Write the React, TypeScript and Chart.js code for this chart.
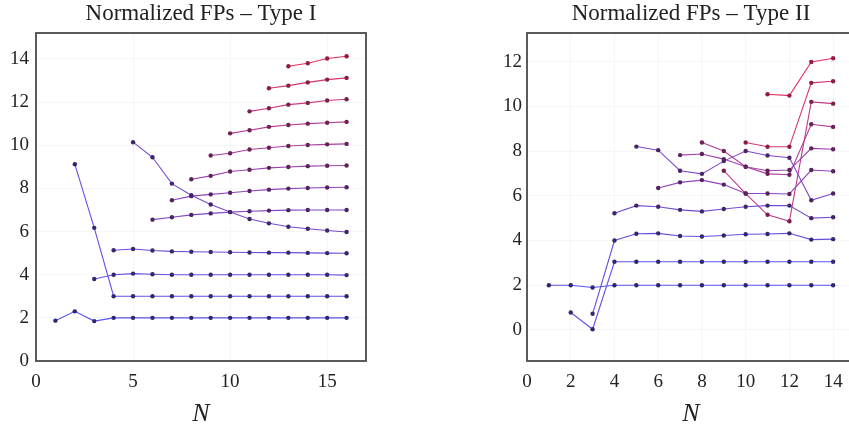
import React, { useEffect, useRef } from "react";
import { Chart, registerables } from "chart.js";

Chart.register(...registerables);

const SERIF = '"Liberation Serif", "Times New Roman", serif';

// ---- Type I: each track appears at N = its start and runs on to N = 16 ----
const TYPE1_TITLE = "Normalized FPs – Type I";
const TYPE1_STARTS = [1, 2, 3, 4, 5, 6, 7, 8, 9, 10, 11, 12, 13];
const T1_TRACK_01 = [1.87, 2.3, 1.85, 2.0, 2.0, 2.0, 2.0, 2.0, 2.0, 2.0, 2.0, 2.0, 2.0, 2.0, 2.0, 2.0];
const T1_TRACK_02 = [9.12, 6.17, 3.0, 3.0, 3.0, 3.0, 3.0, 3.0, 3.0, 3.0, 3.0, 3.0, 3.0, 3.0, 3.0];
const T1_TRACK_03 = [3.8, 4.0, 4.05, 4.02, 4.0, 4.0, 4.0, 4.0, 4.0, 4.0, 4.0, 4.0, 4.0, 3.98];
const T1_TRACK_04 = [5.13, 5.19, 5.12, 5.08, 5.06, 5.05, 5.04, 5.03, 5.02, 5.02, 5.01, 5.0, 4.99];
const T1_TRACK_05 = [10.14, 9.44, 8.22, 7.68, 7.25, 6.9, 6.58, 6.38, 6.22, 6.13, 6.05, 5.98];
const T1_TRACK_06 = [6.55, 6.66, 6.77, 6.84, 6.9, 6.94, 6.97, 6.99, 7.0, 7.0, 7.0];
const T1_TRACK_07 = [7.45, 7.64, 7.72, 7.8, 7.88, 7.94, 7.99, 8.02, 8.04, 8.05];
const T1_TRACK_08 = [8.42, 8.58, 8.78, 8.86, 8.95, 8.99, 9.03, 9.05, 9.06];
const T1_TRACK_09 = [9.52, 9.63, 9.8, 9.88, 9.96, 10.01, 10.04, 10.06];
const T1_TRACK_10 = [10.55, 10.69, 10.85, 10.94, 11.0, 11.04, 11.08];
const T1_TRACK_11 = [11.57, 11.71, 11.88, 11.96, 12.07, 12.13];
const T1_TRACK_12 = [12.64, 12.76, 12.91, 13.04, 13.12];
const T1_TRACK_13 = [13.66, 13.8, 14.02, 14.12];
const TYPE1_TRACKS = [
  T1_TRACK_01, T1_TRACK_02, T1_TRACK_03, T1_TRACK_04, T1_TRACK_05, T1_TRACK_06, T1_TRACK_07,
  T1_TRACK_08, T1_TRACK_09, T1_TRACK_10, T1_TRACK_11, T1_TRACK_12, T1_TRACK_13,
];
const TYPE1_X_TICKS = [0, 5, 10, 15];
const TYPE1_Y_TICKS = [0, 2, 4, 6, 8, 10, 12, 14];

// ---- Type II: each track appears at N = its start and runs on to N = 14 ----
const TYPE2_TITLE = "Normalized FPs – Type II";
const TYPE2_STARTS = [1, 2, 3, 4, 5, 6, 7, 8, 9, 10, 11];
const T2_TRACK_01 = [2.0, 2.0, 1.9, 2.0, 2.0, 2.0, 2.0, 2.0, 2.0, 2.0, 2.0, 2.0, 2.0, 2.0];
const T2_TRACK_02 = [0.78, 0.03, 3.05, 3.05, 3.05, 3.05, 3.05, 3.05, 3.05, 3.05, 3.05, 3.05, 3.05];
const T2_TRACK_03 = [0.72, 4.0, 4.3, 4.32, 4.2, 4.18, 4.22, 4.28, 4.29, 4.32, 4.04, 4.06];
const T2_TRACK_04 = [5.22, 5.56, 5.51, 5.37, 5.3, 5.41, 5.51, 5.56, 5.56, 5.0, 5.04];
const T2_TRACK_05 = [8.2, 8.04, 7.12, 6.98, 7.55, 8.0, 7.8, 7.7, 5.8, 6.1];
const T2_TRACK_06 = [6.35, 6.6, 6.7, 6.5, 6.1, 6.1, 6.08, 7.15, 7.1];
const T2_TRACK_07 = [7.82, 7.87, 7.64, 7.3, 7.12, 7.15, 8.12, 8.08];
const T2_TRACK_08 = [8.38, 8.0, 7.3, 6.98, 6.94, 9.2, 9.08];
const T2_TRACK_09 = [7.12, 6.1, 5.15, 4.86, 10.2, 10.12];
const T2_TRACK_10 = [8.38, 8.19, 8.19, 11.05, 11.12];
const T2_TRACK_11 = [10.54, 10.48, 11.98, 12.15];
const TYPE2_TRACKS = [
  T2_TRACK_01, T2_TRACK_02, T2_TRACK_03, T2_TRACK_04, T2_TRACK_05, T2_TRACK_06,
  T2_TRACK_07, T2_TRACK_08, T2_TRACK_09, T2_TRACK_10, T2_TRACK_11,
];
const TYPE2_X_TICKS = [0, 2, 4, 6, 8, 10, 12, 14];
const TYPE2_Y_TICKS = [0, 2, 4, 6, 8, 10, 12];

// Blue-to-red blend along the track index; dots are a darker shade of the line.
function trackColors(k: number, n: number) {
  const t = Math.pow(k / (n - 1), 1.4);
  const mix = (a: number, b: number) => Math.round(a + (b - a) * t);
  const line = `rgb(${mix(88, 232)}, ${mix(82, 48)}, ${mix(240, 100)})`;
  const dot = `rgb(${mix(42, 150)}, ${mix(40, 28)}, ${mix(115, 62)})`;
  return { line, dot };
}

function buildDatasets(starts: number[], tracks: number[][]) {
  return tracks.map((vals, k) => {
    const c = trackColors(k, tracks.length);
    return {
      data: vals.map((y, i) => ({ x: starts[k] + i, y })),
      borderColor: c.line,
      borderWidth: 1.1,
      pointRadius: 2.2,
      pointBorderWidth: 0,
      pointBackgroundColor: c.dot,
      pointBorderColor: c.dot,
      fill: false,
      tension: 0,
    };
  });
}

const framePlugin = {
  id: "frame",
  afterDatasetsDraw(chart: any) {
    const { ctx, chartArea } = chart;
    const { left, top, right, bottom } = chartArea;
    ctx.save();
    ctx.strokeStyle = "#4a4a4a";
    ctx.lineWidth = 1.8;
    ctx.strokeRect(left, top, right - left, bottom - top);
    ctx.restore();
  },
};

type PanelSpec = {
  title: string;
  starts: number[];
  tracks: number[][];
  xMax: number;
  yMin: number;
  yMax: number;
  xTicks: number[];
  yTicks: number[];
  yAxisWidth: number;
  yLabelPad: number;
  rightPad: number;
};

function makeConfig(spec: PanelSpec): any {
  const tickFont = { family: SERIF, size: 19 };
  const grid = { color: "rgba(0,0,0,0.035)", drawTicks: false };
  return {
    type: "line",
    data: { datasets: buildDatasets(spec.starts, spec.tracks) },
    plugins: [framePlugin],
    options: {
      animation: false,
      responsive: false,
      maintainAspectRatio: false,
      layout: { padding: { left: 0, right: spec.rightPad, top: 0, bottom: 0 } },
      plugins: { legend: { display: false }, tooltip: { enabled: false }, title: { display: false } },
      scales: {
        x: {
          type: "linear",
          position: "bottom",
          min: 0,
          max: spec.xMax,
          afterBuildTicks: (s: any) => {
            s.ticks = spec.xTicks.map((value) => ({ value }));
          },
          afterFit: (s: any) => {
            s.height = 75;
          },
          grid,
          border: { display: false },
          ticks: { font: tickFont, color: "#222", padding: 10, maxRotation: 0 },
          title: {
            display: true,
            text: "N",
            color: "#222",
            font: { family: SERIF, size: 26, style: "italic" },
            padding: { top: 0, bottom: 6 },
          },
        },
        top: {
          type: "linear",
          axis: "x",
          position: "top",
          min: 0,
          max: spec.xMax,
          afterFit: (s: any) => {
            s.height = 33;
          },
          grid: { display: false },
          border: { display: false },
          ticks: { display: false },
          title: {
            display: true,
            text: spec.title,
            color: "#222",
            font: { family: SERIF, size: 23 },
            padding: { top: 0, bottom: 0 },
          },
        },
        y: {
          type: "linear",
          min: spec.yMin,
          max: spec.yMax,
          afterBuildTicks: (s: any) => {
            s.ticks = spec.yTicks.map((value) => ({ value }));
          },
          afterFit: (s: any) => {
            s.width = spec.yAxisWidth;
          },
          grid,
          border: { display: false },
          ticks: { font: tickFont, color: "#222", padding: spec.yLabelPad },
        },
      },
    },
  };
}

function Panel({ left, width, spec }: { left: number; width: number; spec: PanelSpec }) {
  const ref = useRef<HTMLCanvasElement>(null);
  useEffect(() => {
    const chart = new Chart(ref.current as HTMLCanvasElement, makeConfig(spec));
    return () => chart.destroy();
  }, []);
  return (
    <div style={{ position: "absolute", left, top: 0, width, height: 436 }}>
      <canvas ref={ref} width={width} height={436} style={{ width, height: 436, display: "block" }} />
    </div>
  );
}

const TYPE1_SPEC: PanelSpec = {
  title: TYPE1_TITLE,
  starts: TYPE1_STARTS,
  tracks: TYPE1_TRACKS,
  xMax: 17,
  yMin: 0,
  yMax: 15.2,
  xTicks: TYPE1_X_TICKS,
  yTicks: TYPE1_Y_TICKS,
  yAxisWidth: 36,
  yLabelPad: 7,
  rightPad: 34,
};

const TYPE2_SPEC: PanelSpec = {
  title: TYPE2_TITLE,
  starts: TYPE2_STARTS,
  tracks: TYPE2_TRACKS,
  xMax: 15,
  yMin: -1.39,
  yMax: 13.28,
  xTicks: TYPE2_X_TICKS,
  yTicks: TYPE2_Y_TICKS,
  yAxisWidth: 37,
  yLabelPad: 5,
  rightPad: 10,
};

export default function App() {
  return (
    <div
      style={{
        position: "absolute",
        left: 0,
        top: 0,
        width: 849,
        height: 436,
        overflow: "hidden",
        background: "#fff",
      }}
    >
      <Panel left={0} width={400} spec={TYPE1_SPEC} />
      <Panel left={490} width={375} spec={TYPE2_SPEC} />
    </div>
  );
}
